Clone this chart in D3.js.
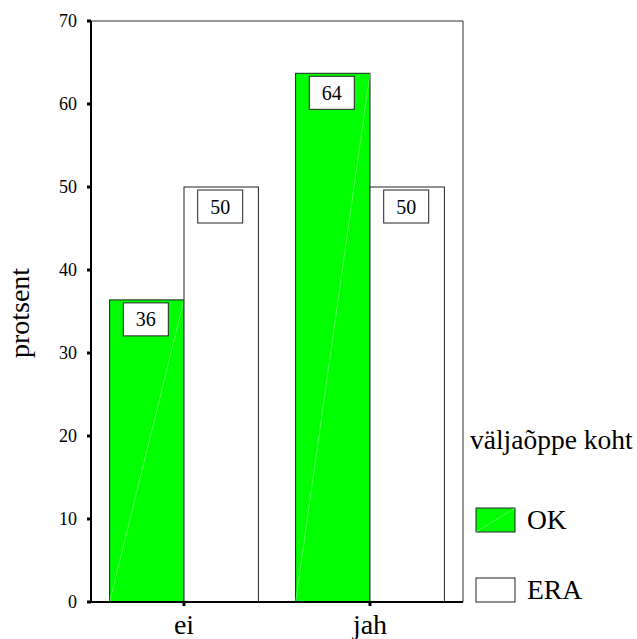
<!DOCTYPE html>
<html><head><meta charset="utf-8">
<script src="https://cdn.jsdelivr.net/npm/d3@7"></script>
<style>body{margin:0;background:#fff}svg{display:block}</style>
</head><body>
<script>
const categories = ["ei", "jah"];
const seriesNames = ["OK", "ERA"];
const okValues = [36.4, 63.7];
const eraValues = [50, 50];
const okLabels = ["36", "64"];
const eraLabels = ["50", "50"];
const yTicks = [0, 10, 20, 30, 40, 50, 60, 70];
const colors = {OK: "#00ff00", ERA: "#ffffff"};

const W = 637, H = 639;
const pLeft = 91, pRight = 463, pTop = 21, pBottom = 602;
const svg = d3.select("body").append("svg").attr("width", W).attr("height", H)
  .attr("font-family", "'Liberation Serif', 'DejaVu Serif', serif");

const y = d3.scaleLinear().domain([0, 70]).range([pBottom, pTop]);
const x = d3.scaleBand().domain(categories).range([pLeft, pRight]).paddingInner(0.2).paddingOuter(0.1);
const xs = d3.scaleBand().domain(seriesNames).range([0, x.bandwidth()]);

// frame top/right
svg.append("line").attr("x1", pLeft).attr("x2", pRight).attr("y1", pTop).attr("y2", pTop).attr("stroke", "#333").attr("stroke-width", 1);
svg.append("line").attr("x1", pRight).attr("x2", pRight).attr("y1", pTop).attr("y2", pBottom).attr("stroke", "#333").attr("stroke-width", 1);

const data = [];
categories.forEach((c, i) => {
  data.push({c, s: "OK", v: okValues[i], lab: okLabels[i]});
  data.push({c, s: "ERA", v: eraValues[i], lab: eraLabels[i]});
});

const g = svg.append("g");
data.forEach(d => {
  const bx = x(d.c) + xs(d.s), bw = xs.bandwidth();
  g.append("rect").attr("x", bx).attr("y", y(d.v)).attr("width", bw).attr("height", y(0) - y(d.v))
    .attr("fill", colors[d.s]).attr("stroke", "#222").attr("stroke-width", 1);
  if (d.s === "OK") {
    g.append("line").attr("x1", bx).attr("y1", y(0)).attr("x2", bx + bw).attr("y2", y(d.v))
      .attr("stroke", "#e0ffe0").attr("stroke-width", 0.4);
  }
  const cx = bx + bw / 2;
  const bwid = 45, bh = 33;
  g.append("rect").attr("x", cx - bwid / 2 - 1).attr("y", y(d.v) + 3).attr("width", bwid).attr("height", bh)
    .attr("fill", "#fff").attr("stroke", "#222").attr("stroke-width", 1);
  g.append("text").attr("x", cx - 1).attr("y", y(d.v) + 3 + 23.5).attr("text-anchor", "middle")
    .attr("font-size", 20).text(d.lab);
});

// y axis
svg.append("line").attr("x1", pLeft).attr("x2", pLeft).attr("y1", pTop).attr("y2", pBottom).attr("stroke", "#000").attr("stroke-width", 2);
yTicks.forEach(t => {
  svg.append("rect").attr("x", pLeft - 4).attr("y", y(t) - 1.5).attr("width", 4).attr("height", 3).attr("fill", "#000");
  svg.append("text").attr("x", 77).attr("y", y(t) + 6.3).attr("text-anchor", "end").attr("font-size", 18).text(t);
});
// x axis
svg.append("line").attr("x1", pLeft - 4).attr("x2", pRight).attr("y1", pBottom).attr("y2", pBottom).attr("stroke", "#000").attr("stroke-width", 2);
categories.forEach(c => {
  const cx = x(c) + x.bandwidth() / 2;
  svg.append("rect").attr("x", cx - 1.5).attr("y", pBottom).attr("width", 3).attr("height", 4).attr("fill", "#000");
  svg.append("text").attr("x", cx).attr("y", 634).attr("text-anchor", "middle").attr("font-size", 28).text(c);
});

svg.append("text").attr("transform", "translate(29,313) rotate(-90)").attr("text-anchor", "middle")
  .attr("font-size", 28).text("protsent");

// legend
svg.append("text").attr("x", 470).attr("y", 449).attr("font-size", 27.5).text("väljaõppe koht");
seriesNames.forEach((s, i) => {
  const ly = 508 + i * 70;
  svg.append("rect").attr("x", 476).attr("y", ly).attr("width", 39).attr("height", 24)
    .attr("fill", colors[s]).attr("stroke", "#222").attr("stroke-width", 1);
  if (s === "OK") svg.append("line").attr("x1", 476).attr("y1", ly + 24).attr("x2", 515).attr("y2", ly).attr("stroke", "#e0ffe0").attr("stroke-width", 0.4);
  svg.append("text").attr("x", 527).attr("y", ly + 20.5).attr("font-size", 27.5).text(s);
});
</script>
</body></html>
